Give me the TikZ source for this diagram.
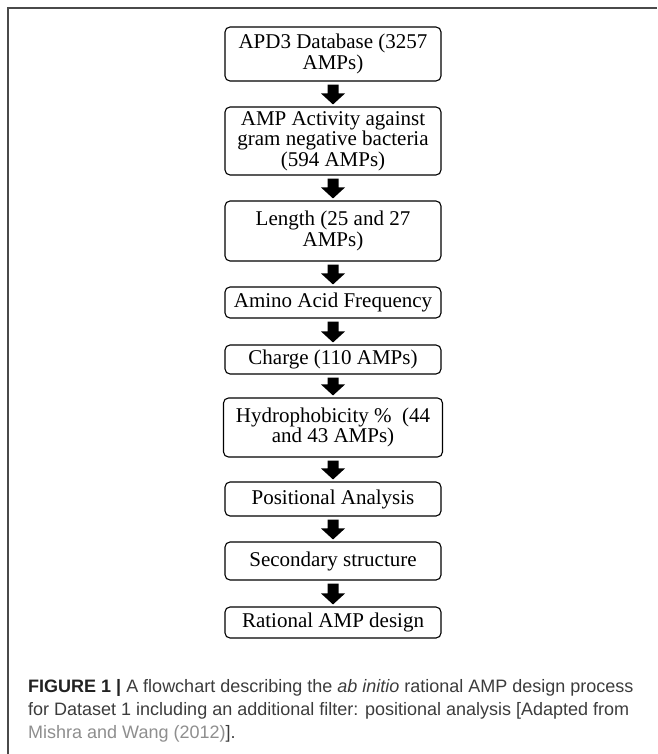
\documentclass[tikz,border=0pt]{standalone}
\usepackage{fontspec}
\setmainfont{Liberation Serif}
\newfontfamily\capfont{Liberation Sans}
\usetikzlibrary{calc}
\definecolor{captext}{HTML}{3C3C3C}
\definecolor{capbold}{HTML}{222222}
\definecolor{caplink}{HTML}{8E8E8E}
\definecolor{framecol}{HTML}{4A4A4A}
\tikzset{
  box/.style={draw=black, line width=1.1pt, rounded corners=5pt,
    minimum width=216pt, align=center, inner sep=0pt,
    font=\fontsize{21}{20.5}\selectfont},
  blockarrow/.style={fill=black, to path={
    let \p1=(\tikztostart), \p2=(\tikztotarget) in
    (\x1-5.5pt,\y1-3pt) -- (\x1+5.5pt,\y1-3pt) -- (\x1+5.5pt,\y2+13pt)
    -- (\x1+12pt,\y2+13pt) -- (\x1,\y2+2pt) -- (\x1-12pt,\y2+13pt)
    -- (\x1-5.5pt,\y2+13pt) -- cycle}},
  capline/.style={anchor=base west, inner sep=0pt,
    font=\capfont\fontsize{18}{23}\selectfont, text=captext},
}
\begin{document}
\begin{tikzpicture}[x=1pt,y=1pt]
\useasboundingbox (0,0) rectangle (657,-754);
\draw[framecol, line width=1.5pt] (8,-754) -- (8,-8) -- (657,-8);

\node[box, minimum height=54pt]  (b1) at (333,-54)    {APD3 Database (3257\\AMPs)};
\node[box, minimum height=68pt]  (b2) at (333,-141)   {AMP Activity against\\gram negative bacteria\\(594 AMPs)};
\node[box, minimum height=60pt]  (b3) at (333,-231)   {Length (25 and 27\\AMPs)};
\node[box, minimum height=31pt]  (b4) at (333,-302.5) {Amino Acid Frequency};
\node[box, minimum height=29pt]  (b5) at (333,-359.5) {Charge (110 AMPs)};
\node[box, minimum height=59pt, minimum width=219pt] (b6) at (333,-427.5) {Hydrophobicity \%\ \ (44\\and 43 AMPs)};
\node[box, minimum height=34pt]  (b7) at (333,-499)   {Positional Analysis};
\node[box, minimum height=38pt]  (b8) at (333,-561)   {Secondary structure};
\node[box, minimum height=31pt]  (b9) at (333,-622.5) {Rational AMP design};

\path[blockarrow] (b1.south) to (b2.north);
\path[blockarrow] (b2.south) to (b3.north);
\path[blockarrow] (b3.south) to (b4.north);
\path[blockarrow] (b4.south) to (b5.north);
\path[blockarrow] (b5.south) to (b6.north);
\path[blockarrow] (b6.south) to (b7.north);
\path[blockarrow] (b7.south) to (b8.north);
\path[blockarrow] (b8.south) to (b9.north);

\node[capline] (cap1) at (28,-692) {{\bfseries\color{capbold}FIGURE 1 |} A flowchart describing the \textit{ab initio} rational AMP design process};
\node[capline] (cap2) at (28,-715) {for Dataset 1 including an additional filter: positional analysis [Adapted from};
\node[capline] (cap3) at (28,-738) {{\color{caplink}Mishra and Wang (2012)}].};
\end{tikzpicture}
\end{document}
